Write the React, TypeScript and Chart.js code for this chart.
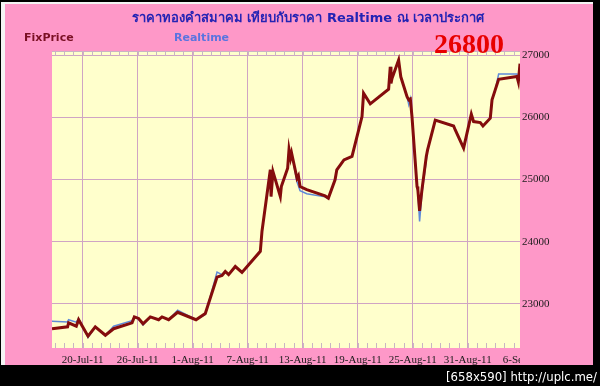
import React, { useEffect, useRef } from "react";
import { Chart, registerables } from "chart.js";

Chart.register(...registerables);

// ---- text ----
const TITLE = "ราคาทองคำสมาคม เทียบกับราคา Realtime ณ เวลาประกาศ";
const SERIES_NAMES = ["FixPrice", "Realtime"];
const LATEST_PRICE = "26800";
const WATERMARK = "[658x590] http://uplc.me/";

// ---- axes (x = day number counted from 1-Jul-2011 = 0) ----
const X_TICK_DAYS = [19, 25, 31, 37, 43, 49, 55, 61, 67];
const X_TICK_LABELS = [
  "20-Jul-11",
  "26-Jul-11",
  "1-Aug-11",
  "7-Aug-11",
  "13-Aug-11",
  "19-Aug-11",
  "25-Aug-11",
  "31-Aug-11",
  "6-Sep-11",
];
const Y_TICKS = [23000, 24000, 25000, 26000, 27000];
const X_MIN = 15.66;
const X_MAX = 66.7;
const Y_MIN = 22290;
const Y_MAX = 27065;

// ---- series: FixPrice ----
const FIX_DAYS = [
  15.66, 17.36, 17.47, 18.31, 18.56, 19.59, 20.38, 21.48, 22.38, 24.39,
  24.64, 25.11, 25.59, 26.38, 27.29, 27.66, 28.38, 29.36, 31.37, 32.38,
  33.66, 34.2, 34.56, 34.92, 35.65, 36.38, 38.38, 38.56, 39.47, 39.55,
  39.76, 40.56, 40.67, 41.36, 41.51, 41.68, 41.79, 42.38, 42.53, 42.71,
  43.44, 45.44, 45.8, 46.53, 46.72, 47.5, 48.38, 49.47, 49.64, 50.37,
  52.37, 52.55, 52.63, 52.74, 53.46, 53.7, 54.38, 54.57, 54.74, 54.92,
  55.47, 55.56, 55.75, 56.01, 56.48, 56.62, 57.46, 59.46, 59.64, 60.55,
  61.39, 61.64, 62.37, 62.66, 63.46, 63.65, 64.0, 64.37, 66.37, 66.52,
  66.7,
];
const FIX_PRICES = [
  22600, 22630, 22695, 22640, 22745, 22480, 22630, 22495, 22600, 22695,
  22790, 22765, 22680, 22790, 22745, 22790, 22745, 22865, 22745, 22845,
  23430, 23455, 23520, 23470, 23600, 23505, 23845, 24165, 25155, 24725,
  25125, 24725, 24885, 25180, 25485, 25345, 25425, 25020, 25060, 24885,
  24835, 24735, 24700, 24995, 25155, 25315, 25370, 26010, 26385, 26215,
  26450, 26810, 26545, 26625, 26920, 26650, 26330, 26280, 26295, 26010,
  24885, 24835, 24495, 24835, 25370, 25475, 25955, 25860, 25795, 25505,
  26050, 25930, 25915, 25860, 25985, 26280, 26440, 26610, 26655, 26570,
  26860,
];

// ---- series: Realtime ----
const RT_DAYS = FIX_DAYS;
const RT_PRICES = [
  22720, 22710, 22745, 22705, 22765, 22460, 22630, 22490, 22640, 22730,
  22790, 22750, 22660, 22790, 22745, 22790, 22745, 22900, 22745, 22830,
  23510, 23470, 23520, 23470, 23600, 23505, 23845, 24165, 25155, 24725,
  25125, 24725, 24885, 25180, 25485, 25345, 25425, 24960, 24900, 24820,
  24770, 24720, 24690, 24995, 25155, 25315, 25370, 26010, 26385, 26215,
  26450, 26810, 26545, 26625, 26920, 26650, 26330, 26200, 26295, 26010,
  24885, 24800, 24325, 24780, 25300, 25475, 25955, 25860, 25795, 25505,
  26050, 25930, 25915, 25860, 25985, 26280, 26440, 26695, 26695, 26600,
  26860,
];

const GRID = "#cfa4c4";

const plotBackground = {
  id: "plotBackground",
  beforeDraw(chart: any) {
    const { ctx, chartArea } = chart;
    ctx.save();
    ctx.fillStyle = "#ffffcc";
    ctx.fillRect(chartArea.left, chartArea.top, chartArea.right - chartArea.left, chartArea.bottom - chartArea.top);
    ctx.restore();
  },
};

const minorTicks = {
  id: "minorTicks",
  beforeDatasetsDraw(chart: any) {
    const { ctx, chartArea } = chart;
    const xs = chart.scales.x;
    ctx.save();
    ctx.strokeStyle = "#c9b4c4";
    ctx.lineWidth = 1;
    ctx.beginPath();
    ctx.moveTo(chartArea.left, chartArea.top + 0.5);
    ctx.lineTo(chartArea.right, chartArea.top + 0.5);
    for (let d = Math.ceil(X_MIN); d <= Math.floor(X_MAX); d++) {
      const px = Math.round(xs.getPixelForValue(d)) + 0.5;
      ctx.moveTo(px, chartArea.bottom);
      ctx.lineTo(px, chartArea.bottom - 5);
      ctx.moveTo(px, chartArea.top);
      ctx.lineTo(px, chartArea.top + 5);
    }
    ctx.stroke();
    ctx.restore();
  },
  afterDraw(chart: any) {
    const { ctx, chartArea } = chart;
    const xs = chart.scales.x;
    ctx.save();
    ctx.beginPath();
    ctx.rect(0, chartArea.bottom, chartArea.right, chart.height - chartArea.bottom);
    ctx.clip();
    ctx.fillStyle = "#1a1a1a";
    ctx.font = "11px 'Liberation Serif', 'Times New Roman', serif";
    ctx.textAlign = "center";
    ctx.textBaseline = "middle";
    X_TICK_DAYS.forEach((d, i) => {
      ctx.fillText(X_TICK_LABELS[i], xs.getPixelForValue(d), chartArea.bottom + 12);
    });
    ctx.restore();
  },
};

export default function App() {
  const ref = useRef<HTMLCanvasElement | null>(null);

  useEffect(() => {
    if (!ref.current) return;
    const chart = new Chart(ref.current, {
      type: "line",
      data: {
        datasets: [
          {
            label: SERIES_NAMES[0],
            data: FIX_DAYS.map((d, i) => ({ x: d, y: FIX_PRICES[i] })),
            borderColor: "#840c0c",
            borderWidth: 3,
            pointRadius: 0,
            tension: 0,
          },
          {
            label: SERIES_NAMES[1],
            data: RT_DAYS.map((d, i) => ({ x: d, y: RT_PRICES[i] })),
            borderColor: "#5f8ad8",
            borderWidth: 1.5,
            pointRadius: 0,
            tension: 0,
          },
        ],
      },
      options: {
        animation: false,
        responsive: false,
        devicePixelRatio: 1,
        layout: { padding: { left: 52, top: 51, right: 0, bottom: 0 } },
        plugins: { legend: { display: false }, tooltip: { enabled: false }, title: { display: false } },
        scales: {
          x: {
            type: "linear",
            min: X_MIN,
            max: X_MAX,
            afterBuildTicks: (axis: any) => {
              axis.ticks = X_TICK_DAYS.filter((d) => d <= X_MAX).map((v) => ({ value: v }));
            },
            afterFit: (axis: any) => {
              axis.height = 38;
            },
            grid: { color: GRID, lineWidth: 1, drawTicks: false },
            border: { display: false },
            ticks: { display: false },
          },
          y: {
            type: "linear",
            position: "right",
            min: Y_MIN,
            max: Y_MAX,
            afterBuildTicks: (axis: any) => {
              axis.ticks = Y_TICKS.map((v) => ({ value: v }));
            },
            afterFit: (axis: any) => {
              axis.width = 80;
            },
            grid: { color: GRID, lineWidth: 1, drawTicks: false },
            border: { display: false },
            ticks: {
              padding: 2,
              color: "#1a1a1a",
              font: { family: "'Liberation Serif', 'Times New Roman', serif", size: 11 },
              callback: (v: any) => String(v),
            },
          },
        },
      },
      plugins: [plotBackground, minorTicks],
    });
    return () => chart.destroy();
  }, []);

  return (
    <div style={{ position: "absolute", left: 0, top: 0, width: 600, height: 386, background: "#000", overflow: "hidden" }}>
      <div style={{ position: "absolute", left: 1, top: 2, width: 592, height: 363, background: "#f4f4f4" }} />
      <div style={{ position: "absolute", left: 5, top: 4, width: 588, height: 361, background: "#fe98c8" }} />
      <canvas ref={ref} width={600} height={386} style={{ position: "absolute", left: 0, top: 0, width: 600, height: 386 }} />
      <div
        style={{
          position: "absolute",
          left: 0,
          width: 616,
          top: 7,
          textAlign: "center",
          color: "#2323b4",
          fontWeight: "bold",
          fontSize: 13,
          fontFamily: "Tahoma, 'DejaVu Sans', 'Noto Sans', sans-serif",
          whiteSpace: "nowrap",
        }}
      >
        {TITLE}
      </div>
      <div style={{ position: "absolute", left: 24, top: 31, color: "#7a1024", fontWeight: "bold", fontSize: 11, fontFamily: "Tahoma, 'DejaVu Sans', sans-serif" }}>
        {SERIES_NAMES[0]}
      </div>
      <div style={{ position: "absolute", left: 174, top: 31, color: "#5a74e0", fontWeight: "bold", fontSize: 11, fontFamily: "Tahoma, 'DejaVu Sans', sans-serif" }}>
        {SERIES_NAMES[1]}
      </div>
      <div
        style={{
          position: "absolute",
          left: 434,
          top: 28,
          color: "#e80000",
          fontWeight: "bold",
          fontSize: 28,
          lineHeight: "32px",
          fontFamily: "'Liberation Serif', 'Times New Roman', serif",
        }}
      >
        {LATEST_PRICE}
      </div>
      <div
        style={{
          position: "absolute",
          right: 3,
          top: 369,
          color: "#ffffff",
          fontSize: 13,
          lineHeight: "16px",
          fontFamily: "'DejaVu Sans Condensed', 'DejaVu Sans', sans-serif",
          whiteSpace: "nowrap",
        }}
      >
        {WATERMARK}
      </div>
    </div>
  );
}
